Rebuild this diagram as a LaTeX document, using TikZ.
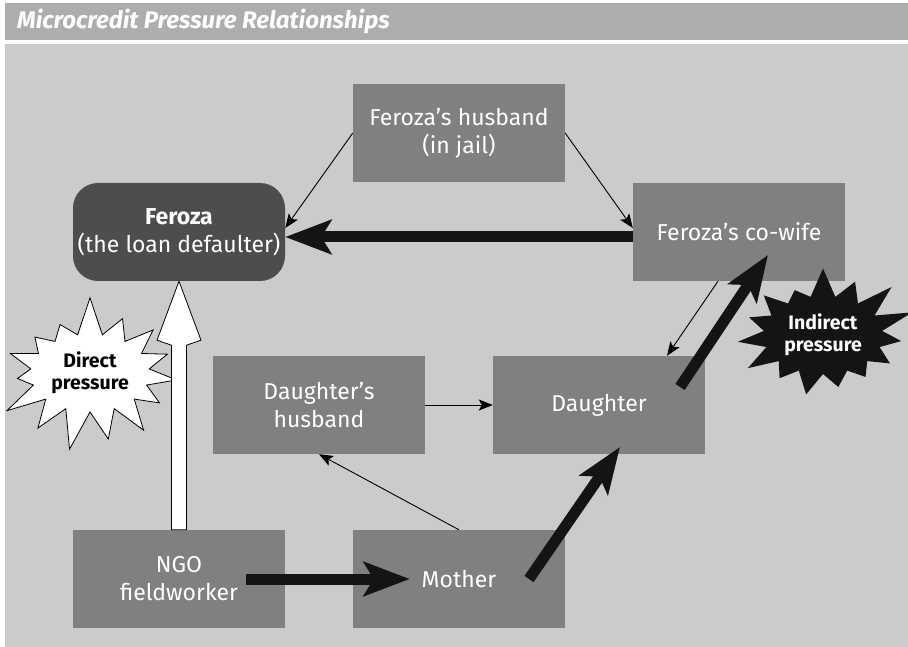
\documentclass[tikz,border=0pt]{standalone}
\usepackage{fontspec}
\setmainfont{Fira Sans}
\setsansfont{Fira Sans}
\usetikzlibrary{arrows.meta,shapes.symbols,calc}
\definecolor{boxgray}{HTML}{808080}
\definecolor{ferozagray}{HTML}{4D4D4D}
\definecolor{panelgray}{HTML}{CBCBCB}
\definecolor{titlegray}{HTML}{ADADAD}
\definecolor{arrowblack}{HTML}{141414}
\begin{document}
\begin{tikzpicture}[x=1pt,y=-1pt,font=\sffamily,
	box/.style={rectangle,fill=boxgray,text=white,minimum width=212pt,minimum height=98pt,align=center,font=\fontsize{23}{28}\selectfont},
	link/.style={-{Stealth[length=14pt,width=11pt,inset=3pt]},line width=0.9pt},
	push/.style={-{Stealth[length=46pt,width=34pt,inset=10pt]},line width=11pt,draw=arrowblack},
	burst/.style={starburst,starburst points=15,starburst point height=40pt,align=center,font=\fontsize{19.5}{22}\selectfont\bfseries,minimum width=160pt,minimum height=158pt}]
	\useasboundingbox (0,0) rectangle (908,647);
	\fill[titlegray] (5,3) rectangle (908,40);
	\fill[panelgray] (5,44) rectangle (908,647);
	\node (title) [anchor=west,inner sep=0pt,text=white,font=\fontsize{24}{28}\selectfont\bfseries\itshape] at (17,21) {Microcredit Pressure Relationships};

	\node (husb)[box] at (459,133) {Feroza’s husband\\(in jail)};
	\node (fer)[box,fill=ferozagray,rounded corners=25pt] at (179,232) {\textbf{Feroza}\\(the loan defaulter)};
	\node (cowife)[box] at (739,232) {Feroza’s co-wife};
	\node (dhus)[box] at (319,405) {Daughter’s\\husband};
	\node (dau)[box] at (599,405) {Daughter};
	\node (ngo)[box] at (179,579) {NGO\\fieldworker};
	\node (mother)[box] at (459,579) {Mother};

	\node (direct)[burst,draw,line width=0.8pt,fill=white,random starburst=7] at (90,373) {Direct\\pressure};
	\node (indirect)[burst,fill=arrowblack,text=white,random starburst=31] at (823,335) {Indirect\\pressure};

	\draw[link] (husb.west) -- ([yshift=4pt]fer.east);
	\draw[link] (husb.east) -- ([yshift=4pt]cowife.west);
	\draw[push] ([yshift=-5pt]cowife.west) -- ([yshift=-5pt]fer.east);
	\draw[link] (dhus.east) -- (dau.west);
	\draw[link] (mother.north) -- (dhus.south);
	\draw[link] ([xshift=-21pt]cowife.south) -- ([xshift=68pt]dau.north);
	\draw[push] ([shift={(81pt,18pt)}]dau.center) -- ([shift={(29pt,-23pt)}]cowife.center);
	\draw[push] ([xshift=70pt]mother.center) -- ([shift={(21pt,-42pt)}]dau.center);
	\draw[push] ([xshift=67pt]ngo.center) -- ([xshift=57pt]mother.west);
	\draw[fill=white,line width=0.8pt] ([xshift=-7.5pt]ngo.north) -- ($(fer.south)+(-7.5,64)$) -- ($(fer.south)+(-22,59)$)
		-- (fer.south) -- ($(fer.south)+(22,59)$) -- ($(fer.south)+(7.5,64)$) -- ([xshift=7.5pt]ngo.north) -- cycle;
\end{tikzpicture}
\end{document}
